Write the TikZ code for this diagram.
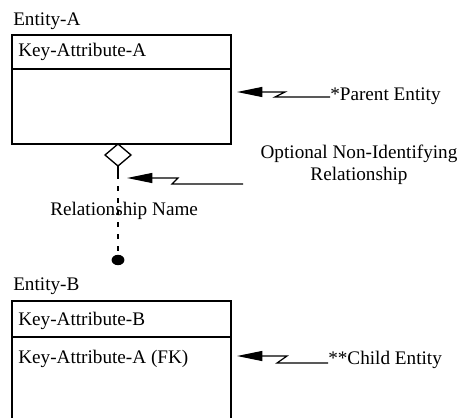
\documentclass[tikz,border=0pt]{standalone}
\usepackage{fontspec}
\setmainfont{Liberation Serif}
\usetikzlibrary{arrows.meta,shapes.geometric}
\begin{document}
\begin{tikzpicture}[x=0.75pt,y=-0.75pt,
  lbl/.style={inner sep=0pt,anchor=base west,font=\fontsize{14.4}{17}\selectfont},
  ebox/.style={draw,line width=1.2pt},
  ptr/.style={line width=0.9pt,-{Triangle[length=19pt,width=7.5pt]}},
  rel/.style={line width=1pt,dash pattern=on 4pt off 5pt}]
\useasboundingbox (0,0) rectangle (459,417);
% Entity A
\node[lbl] (ea) at (13,26) {Entity-A};
\draw[ebox] (12,35) rectangle (231,144);
\draw[ebox] (12,69) -- (231,69);
\node[lbl] (ka) at (18,57) {Key-Attribute-A};
% Entity B
\node[lbl] (eb) at (13,290) {Entity-B};
\draw[ebox] (231,430) -- (231,301) -- (12,301) -- (12,430);
\draw[ebox] (12,337) -- (231,337);
\node[lbl] (kb) at (18,325) {Key-Attribute-B};
\node[lbl] (kfk) at (18,363) {Key-Attribute-A (FK)};
% relationship
\coordinate (dtop) at (118,144);
\coordinate (dl) at (105,155);
\coordinate (dr) at (131,155);
\coordinate (db) at (118,166);
\draw[line width=1pt,line join=miter] (dtop) -- (dr) -- (db) -- (dl) -- cycle;
\node[fill=black,ellipse,inner sep=0pt,minimum width=9.6pt,minimum height=7.8pt] (dot) at (118,260) {};
\coordinate (rs) at (118,174);
\draw[line width=1pt] (db) -- (rs);
\draw[rel] (rs) -- (dot.north);
\node[lbl] (rn) at (50,215) {Relationship Name};
% Optional Non-Identifying
\node[inner sep=0pt,align=center,font=\fontsize{14.4}{16.5}\selectfont,anchor=base] (oni) at (359,180) {Optional Non-Identifying\\Relationship};
\coordinate (o1) at (243,184);
\draw[ptr] (o1) -- (172,184) -- (178,178) -- (127,178);
% Parent
\node[lbl] (pe) at (330,101) {*Parent Entity};
\draw[ptr] (330,97) -- (275,97) -- (285,92) -- (237,92);
% Child
\node[lbl] (ce) at (328,364) {**Child Entity};
\draw[ptr] (328,363) -- (277,363) -- (287,356) -- (237,356);
\end{tikzpicture}
\end{document}
